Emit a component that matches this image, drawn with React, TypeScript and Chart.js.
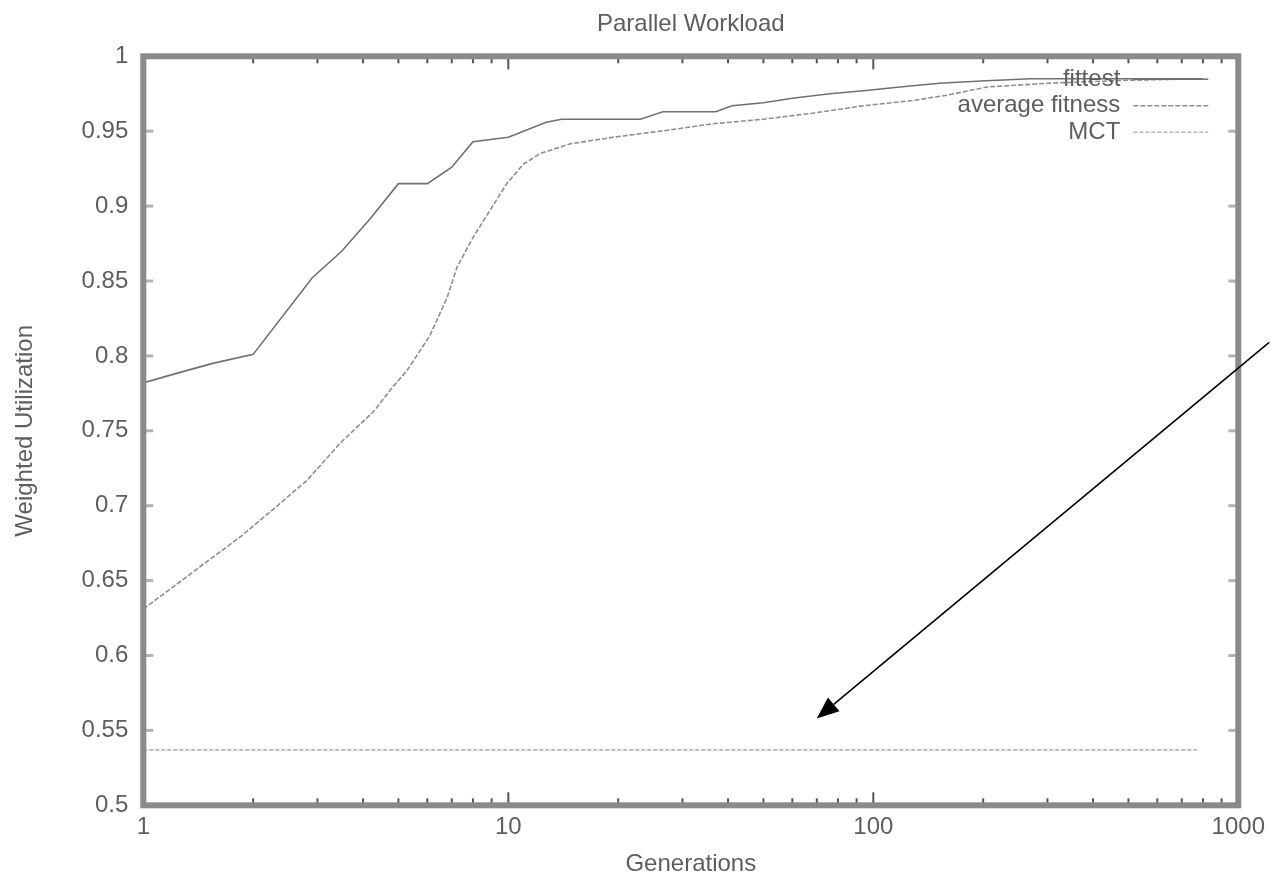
import React, { useEffect, useRef } from 'react';
import { Chart, registerables } from 'chart.js';

Chart.register(...registerables);

const FONT = '"Liberation Sans", Arial, Helvetica, sans-serif';
const TEXT = '#5e5e5e';

const chartTitle = 'Parallel Workload';
const xTitle = 'Generations';
const yTitle = 'Weighted Utilization';
const xTickValues = [1, 10, 100, 1000];
const yMin = 0.5;
const yMax = 1;
const yStep = 0.05;

const seriesLabels = ['fittest', 'average fitness', 'MCT'];

const fittestGen = [1, 1.26, 1.55, 2, 2.9, 3.5, 4.2, 5, 6, 7, 8, 10, 12.7, 14, 23, 26.5, 37, 41, 50, 60, 76, 94, 124, 152, 197, 270, 800];
const fittestVal = [0.782, 0.789, 0.795, 0.801, 0.852, 0.870, 0.892, 0.915, 0.915, 0.926, 0.943, 0.946, 0.956, 0.958, 0.958, 0.963, 0.963, 0.967, 0.969, 0.972, 0.975, 0.977, 0.980, 0.982, 0.9835, 0.985, 0.985];

const averageGen = [1, 1.21, 1.5, 1.84, 2.28, 2.81, 3.47, 4.28, 4.85, 5.27, 5.68, 6.11, 6.8, 7.23, 8, 8.9, 9.9, 11, 12.2, 14.8, 19.4, 27, 36.5, 50, 68, 94, 128, 159, 205, 300, 500, 800];
const averageVal = [0.631, 0.646, 0.663, 0.679, 0.698, 0.717, 0.742, 0.763, 0.780, 0.790, 0.802, 0.814, 0.839, 0.859, 0.879, 0.897, 0.915, 0.928, 0.935, 0.9416, 0.946, 0.9505, 0.955, 0.958, 0.962, 0.967, 0.9705, 0.974, 0.9795, 0.982, 0.984, 0.985];

const mctGen = [1, 770];
const mctVal = [0.537, 0.537];

// annotation arrow, in data units (generation, utilization)
const arrowFrom = [1215, 0.809];
const arrowTo = [70, 0.558];

const toPoints = (xs: number[], ys: number[]) => xs.map((x, i) => ({ x, y: ys[i] }));

const framePlugin = {
  id: 'gnuplotFrame',
  afterDraw(chart: any) {
    const { ctx, chartArea: a, scales } = chart;
    const xs = scales.x;
    const ys = scales.y;
    ctx.save();
    // y ticks (left and right, inside)
    ctx.fillStyle = '#b3b3b3';
    for (let i = 0; i <= Math.round((yMax - yMin) / yStep); i++) {
      const py = ys.getPixelForValue(yMin + i * yStep);
      ctx.fillRect(a.left, py - 1.5, 10, 3);
      ctx.fillRect(a.right - 10, py - 1.5, 10, 3);
    }
    // x ticks (bottom and top, inside), log minor ticks
    ctx.fillStyle = '#555555';
    for (let d = 0; d < 3; d++) {
      for (let k = 1; k <= 9; k++) {
        const v = k * Math.pow(10, d);
        const px = xs.getPixelForValue(v);
        const len = k === 1 ? 13 : 7;
        ctx.fillRect(px - 1, a.bottom - len, 2, len);
        ctx.fillRect(px - 1, a.top, 2, len);
      }
    }
    // frame
    ctx.strokeStyle = '#8a8a8a';
    ctx.lineWidth = 6;
    ctx.strokeRect(a.left, a.top, a.right - a.left, a.bottom - a.top);
    ctx.restore();
  },
};

const legendPlugin = {
  id: 'gnuplotLegend',
  afterDraw(chart: any) {
    const { ctx, chartArea: a } = chart;
    ctx.save();
    ctx.font = `24px ${FONT}`;
    ctx.textAlign = 'right';
    ctx.textBaseline = 'middle';
    chart.data.datasets.forEach((ds: any, i: number) => {
      const yy = a.top + 23 + i * 26.5;
      ctx.fillStyle = TEXT;
      ctx.fillText(ds.label, a.right - 118, yy);
      ctx.strokeStyle = ds.borderColor;
      ctx.lineWidth = ds.borderWidth;
      ctx.setLineDash(ds.borderDash || []);
      ctx.beginPath();
      ctx.moveTo(a.right - 105, yy);
      ctx.lineTo(a.right - 30, yy);
      ctx.stroke();
    });
    ctx.restore();
  },
};

const arrowPlugin = {
  id: 'arrow',
  afterDraw(chart: any) {
    const { ctx, scales } = chart;
    const x1 = scales.x.getPixelForValue(arrowFrom[0]);
    const y1 = scales.y.getPixelForValue(arrowFrom[1]);
    const x2 = scales.x.getPixelForValue(arrowTo[0]);
    const y2 = scales.y.getPixelForValue(arrowTo[1]);
    const ang = Math.atan2(y2 - y1, x2 - x1);
    const headLen = 22;
    const headHalf = 9;
    const bx = x2 - headLen * Math.cos(ang);
    const by = y2 - headLen * Math.sin(ang);
    ctx.save();
    ctx.strokeStyle = '#000';
    ctx.lineWidth = 1.6;
    ctx.beginPath();
    ctx.moveTo(x1, y1);
    ctx.lineTo(bx, by);
    ctx.stroke();
    ctx.fillStyle = '#000';
    ctx.beginPath();
    ctx.moveTo(x2, y2);
    ctx.lineTo(bx + headHalf * Math.sin(ang), by - headHalf * Math.cos(ang));
    ctx.lineTo(bx - headHalf * Math.sin(ang), by + headHalf * Math.cos(ang));
    ctx.closePath();
    ctx.fill();
    ctx.restore();
  },
};

export default function App() {
  const ref = useRef<HTMLCanvasElement | null>(null);

  useEffect(() => {
    if (!ref.current) return;
    Chart.defaults.font.family = FONT;
    const chart = new Chart(ref.current, {
      type: 'line',
      data: {
        datasets: [
          {
            label: seriesLabels[0],
            data: toPoints(fittestGen, fittestVal),
            borderColor: '#707070',
            borderWidth: 1.6,
            pointRadius: 0,
            tension: 0,
          },
          {
            label: seriesLabels[1],
            data: toPoints(averageGen, averageVal),
            borderColor: '#8e8e8e',
            borderWidth: 1.6,
            borderDash: [5, 2],
            pointRadius: 0,
            tension: 0,
          },
          {
            label: seriesLabels[2],
            data: toPoints(mctGen, mctVal),
            borderColor: '#b4b4b4',
            borderWidth: 1.6,
            borderDash: [4, 2],
            pointRadius: 0,
            tension: 0,
          },
        ],
      },
      options: {
        responsive: false,
        animation: false,
        devicePixelRatio: 1,
        layout: { padding: { top: 0, right: 33, bottom: 0, left: 0 } },
        plugins: {
          legend: { display: false },
          tooltip: { enabled: false },
          title: {
            display: true,
            text: chartTitle,
            fullSize: false,
            color: TEXT,
            font: { size: 24, family: FONT, weight: 'normal' },
            padding: { top: 9.6, bottom: 17.9 },
          },
        },
        scales: {
          x: {
            type: 'logarithmic',
            min: 1,
            max: 1000,
            grid: { display: false, drawTicks: false },
            border: { display: false },
            afterBuildTicks: (s: any) => {
              s.ticks = xTickValues.map((v) => ({ value: v }));
            },
            afterFit: (s: any) => {
              s.height = 73.7;
            },
            ticks: {
              autoSkip: false,
              maxRotation: 0,
              padding: 8,
              color: TEXT,
              font: { size: 24, family: FONT },
              callback: (v: any) => String(v),
            },
            title: {
              display: true,
              text: xTitle,
              color: TEXT,
              font: { size: 24, family: FONT },
              padding: { top: 0, bottom: 0 },
            },
          },
          y: {
            type: 'linear',
            min: yMin,
            max: yMax,
            grid: { display: false, drawTicks: false },
            border: { display: false },
            afterFit: (s: any) => {
              s.width = 143.3;
            },
            ticks: {
              stepSize: yStep,
              padding: 15,
              color: TEXT,
              font: { size: 24, family: FONT },
              callback: (v: any) => String(Number(Number(v).toFixed(2))),
            },
            title: {
              display: true,
              text: yTitle,
              color: TEXT,
              font: { size: 24, family: FONT },
              padding: { top: 10.6, bottom: 0 },
            },
          },
        },
      },
      plugins: [framePlugin, legendPlugin, arrowPlugin],
    } as any);
    return () => chart.destroy();
  }, []);

  return (
    <div style={{ position: 'absolute', left: 0, top: 0, width: 1273, height: 879, background: '#fff' }}>
      <canvas ref={ref} width={1273} height={879} style={{ display: 'block', width: 1273, height: 879 }} />
    </div>
  );
}
